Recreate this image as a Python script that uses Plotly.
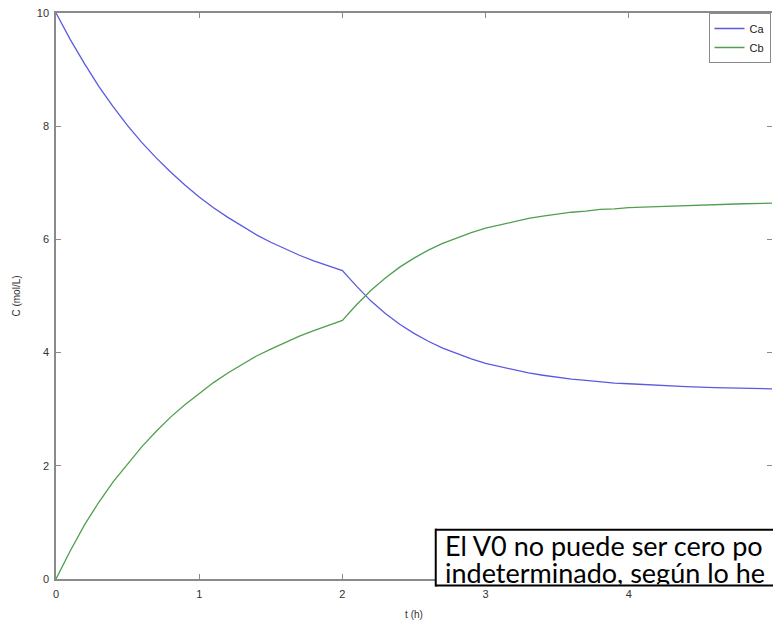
import plotly.graph_objects as go

t = [0.0, 0.1, 0.2, 0.3, 0.4, 0.5, 0.6, 0.7, 0.8, 0.9,
     1.0, 1.1, 1.2, 1.3, 1.4, 1.5, 1.6, 1.7, 1.8, 1.9,
     2.0, 2.1, 2.2, 2.3, 2.4, 2.5, 2.6, 2.7, 2.8, 2.9,
     3.0, 3.1, 3.2, 3.3, 3.4, 3.5, 3.6, 3.7, 3.8, 3.9,
     4.0, 4.2, 4.4, 4.6, 4.8, 5.0]

Ca = [10.00, 9.53, 9.10, 8.70, 8.34, 8.01, 7.71, 7.44, 7.19, 6.96,
      6.75, 6.56, 6.39, 6.23, 6.08, 5.95, 5.83, 5.72, 5.62, 5.53,
      5.45, 5.17, 4.91, 4.69, 4.50, 4.34, 4.20, 4.08, 3.98, 3.89,
      3.81, 3.75, 3.69, 3.64, 3.60, 3.56, 3.53, 3.51, 3.48, 3.46,
      3.45, 3.42, 3.40, 3.38, 3.37, 3.36]

Cb = [0.00, 0.50, 0.96, 1.36, 1.72, 2.04, 2.34, 2.61, 2.86, 3.08,
      3.28, 3.47, 3.64, 3.79, 3.94, 4.06, 4.18, 4.29, 4.39, 4.48,
      4.57, 4.85, 5.10, 5.32, 5.51, 5.67, 5.81, 5.93, 6.03, 6.12,
      6.20, 6.26, 6.32, 6.37, 6.41, 6.45, 6.48, 6.50, 6.53, 6.54,
      6.56, 6.58, 6.60, 6.62, 6.63, 6.64]

x_ticks = [0, 1, 2, 3, 4, 5]
y_ticks = [0, 2, 4, 6, 8, 10]
note_lines = ["El V0 no puede ser cero po", "indeterminado, según lo he"]

W, H = 773, 631
ML, MR, MT, MB = 56, 0.5, 12.7, 51.6
pw = W - ML - MR
ph = H - MT - MB

def px(xp):
    return (xp - ML) / pw

def py(yp):
    return (H - MB - yp) / ph

fig = go.Figure()
fig.add_trace(go.Scatter(x=t, y=Ca, mode="lines", name="Ca",
                         line=dict(color="#5a5ae0", width=1.3)))
fig.add_trace(go.Scatter(x=t, y=Cb, mode="lines", name="Cb",
                         line=dict(color="#4f9f4f", width=1.3)))
# carrier for the right-hand tick marks (invisible)
fig.add_trace(go.Scatter(x=t, y=Ca, mode="lines", yaxis="y2", opacity=0,
                         showlegend=False, hoverinfo="skip",
                         line=dict(color="rgba(0,0,0,0)", width=0)))

tick_style = dict(ticks="inside", ticklen=5, tickcolor="#8a8a8a",
                  tickfont=dict(family="Liberation Sans", size=11, color="#333333"))

fig.update_layout(
    width=W, height=H,
    margin=dict(l=ML, r=MR, t=MT, b=MB, pad=0),
    paper_bgcolor="white", plot_bgcolor="white",
    showlegend=True,
    xaxis=dict(range=[0, 5], tickvals=x_ticks, ticktext=[str(v) for v in x_ticks],
               showgrid=False, zeroline=False, showline=True, linecolor="#8a8a8a",
               linewidth=1.5, mirror="ticks", ticklabelstandoff=4,
               title=dict(text="t (h)", font=dict(family="Liberation Sans", size=10, color="#333333"),
                          standoff=12),
               **tick_style),
    yaxis=dict(range=[0, 10], tickvals=y_ticks, ticktext=[str(v) for v in y_ticks],
               showgrid=False, zeroline=False, showline=True, linecolor="#8a8a8a",
               linewidth=1.5, mirror=False, ticklabelstandoff=3,
               title=dict(text="C (mol/L)", font=dict(family="Liberation Sans", size=10, color="#333333"),
                          standoff=14),
               **tick_style),
    yaxis2=dict(range=[0, 10], tickvals=y_ticks, overlaying="y", side="right",
                showgrid=False, zeroline=False, showline=False, showticklabels=False,
                ticks="inside", ticklen=5, tickcolor="#8a8a8a"),
    legend=dict(x=px(771), y=1, xanchor="right", yanchor="top",
                bgcolor="white", bordercolor="#8a8a8a", borderwidth=1,
                font=dict(family="Liberation Sans", size=11, color="#222222"),
                tracegroupgap=0, itemwidth=30),
)

# text box overlay (cut off by the right edge and the box bottom in the reference)
fig.add_shape(type="rect", xref="paper", yref="paper",
              x0=px(436), x1=px(800), y0=py(586), y1=py(530),
              line=dict(width=0), fillcolor="white", layer="above")
for (xa, ya, xb, yb) in [(436, 530, 800, 530), (436, 586, 800, 586), (436, 529, 436, 587)]:
    fig.add_shape(type="line", xref="paper", yref="paper",
                  x0=px(xa), y0=py(ya), x1=px(xb), y1=py(yb),
                  line=dict(color="black", width=2), layer="above")

note_boxes = [(529.0, 31.5, "top"), (560.5, 24.5, "middle")]
for line, (top, hgt, va) in zip(note_lines, note_boxes):
    fig.add_annotation(xref="paper", yref="paper", x=px(445), y=py(top),
                       xanchor="left", yanchor="top", showarrow=False,
                       text=line, align="left", valign=va,
                       height=hgt, borderpad=0, borderwidth=0,
                       font=dict(family="Lato", size=27, color="black"))

fig.write_html("out.html", config={"displayModeBar": False},
               post_script="document.body.style.margin='0';document.body.style.overflow='hidden';")
